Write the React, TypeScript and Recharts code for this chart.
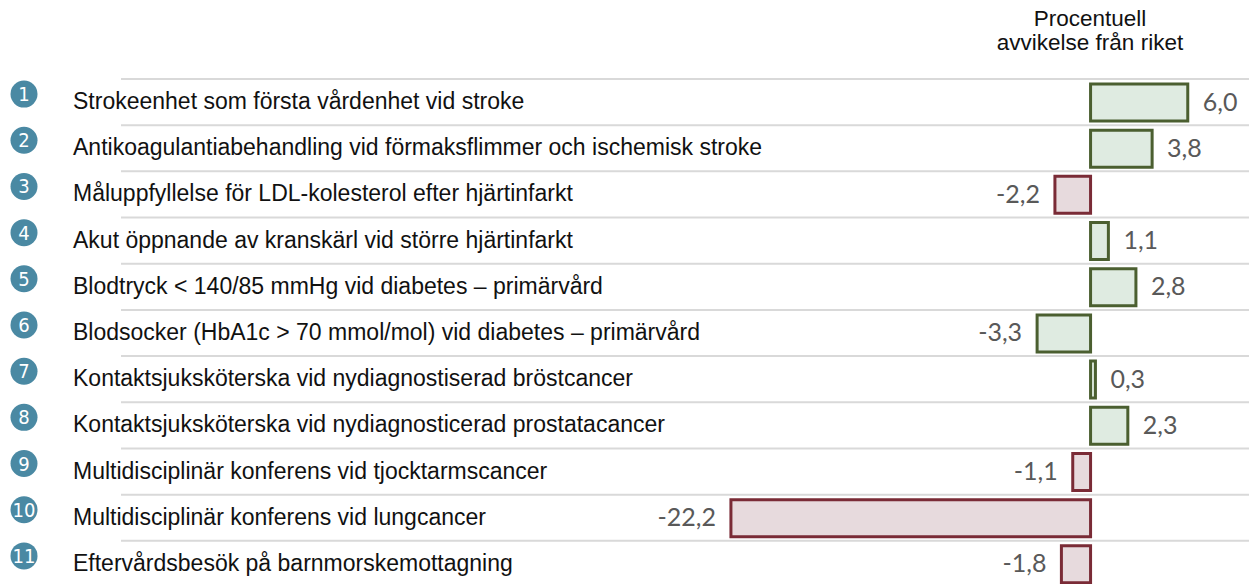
import { BarChart, Bar, XAxis, YAxis, CartesianGrid, Cell, LabelList } from "recharts";

const indicators = [
  "Strokeenhet som första vårdenhet vid stroke",
  "Antikoagulantiabehandling vid förmaksflimmer och ischemisk stroke",
  "Måluppfyllelse för LDL-kolesterol efter hjärtinfarkt",
  "Akut öppnande av kranskärl vid större hjärtinfarkt",
  "Blodtryck < 140/85 mmHg vid diabetes – primärvård",
  "Blodsocker (HbA1c > 70 mmol/mol) vid diabetes – primärvård",
  "Kontaktsjuksköterska vid nydiagnostiserad bröstcancer",
  "Kontaktsjuksköterska vid nydiagnosticerad prostatacancer",
  "Multidisciplinär konferens vid tjocktarmscancer",
  "Multidisciplinär konferens vid lungcancer",
  "Eftervårdsbesök på barnmorskemottagning",
];

// procentuell avvikelse från riket
const deviation = [6.0, 3.8, -2.2, 1.1, 2.8, -3.3, 0.3, 2.3, -1.1, -22.2, -1.8];

// true = bättre än riket (grön), false = sämre (röd)
const better = [true, true, false, true, true, true, true, true, false, false, false];

const headerLines = ["Procentuell", "avvikelse från riket"];

const XMIN = -59.85;
const XMAX = 9.78;

const GOOD = { fill: "#dfebe1", stroke: "#4b5f30" };
const BAD = { fill: "#e7dadd", stroke: "#7a2b36" };

const rows = indicators.map((name, i) => ({ name, value: deviation[i] }));

const fmt = (v: number) => v.toFixed(1).replace(".", ",");

function IndicatorTick(props: any) {
  const { y, payload, index } = props;
  return (
    <g>
      <circle cx={24} cy={y - 8} r={13.5} fill="#4a89a3" />
      <text
        x={24}
        y={y - 8}
        dy={7}
        textAnchor="middle"
        fill="#fff"
        fontSize={20}
        fontFamily="'Liberation Sans Narrow', 'DejaVu Sans Condensed', sans-serif"
      >
        {index + 1}
      </text>
      <text x={73} y={y} dy={7} fontSize={23} fill="#111">
        {payload.value}
      </text>
    </g>
  );
}

function ValueLabel(props: any) {
  const { x, y, width, height, value } = props;
  const left = Math.min(x, x + width);
  const right = Math.max(x, x + width);
  const pos = value >= 0;
  return (
    <text
      x={pos ? right + 15 : left - 15}
      y={y + height / 2}
      dy={8}
      textAnchor={pos ? "start" : "end"}
      fill="#595959"
      fontSize={25}
      fontFamily="Lato, 'Open Sans', sans-serif"
    >
      {fmt(value)}
    </text>
  );
}

export default function App() {
  return (
    <div
      style={{
        position: "absolute",
        left: 0,
        top: 0,
        width: 1249,
        height: 584,
        overflow: "hidden",
        background: "#fff",
        fontFamily: "'Liberation Sans', Arial, sans-serif",
      }}
    >
      {headerLines.map((line, i) => (
        <div
          key={line}
          style={{
            position: "absolute",
            left: 940,
            top: 7 + i * 24,
            width: 300,
            height: 24,
            textAlign: "center",
            fontSize: 22.5,
            lineHeight: "24px",
            color: "#111",
          }}
        >
          {line}
        </div>
      ))}
      <BarChart
        layout="vertical"
        width={1249}
        height={590}
        data={rows}
        margin={{ top: 79, right: 0, bottom: 3, left: 0 }}
        barSize={37}
      >
        <CartesianGrid
          vertical={false}
          stroke="#d9d9d9"
          strokeWidth={2}
          horizontalCoordinatesGenerator={({ offset }: any) =>
            rows.map((_, i) => offset.top + (i * offset.height) / rows.length)
          }
        />
        <XAxis type="number" domain={[XMIN, XMAX]} allowDataOverflow hide />
        <YAxis
          type="category"
          dataKey="name"
          width={121}
          axisLine={false}
          tickLine={false}
          interval={0}
          tick={(p: any) => <IndicatorTick {...p} />}
        />
        <Bar dataKey="value" strokeWidth={3} isAnimationActive={false}>
          {rows.map((r, i) => (
            <Cell
              key={r.name}
              fill={better[i] ? GOOD.fill : BAD.fill}
              stroke={better[i] ? GOOD.stroke : BAD.stroke}
            />
          ))}
          <LabelList dataKey="value" content={(p: any) => <ValueLabel {...p} />} />
        </Bar>
      </BarChart>
    </div>
  );
}
